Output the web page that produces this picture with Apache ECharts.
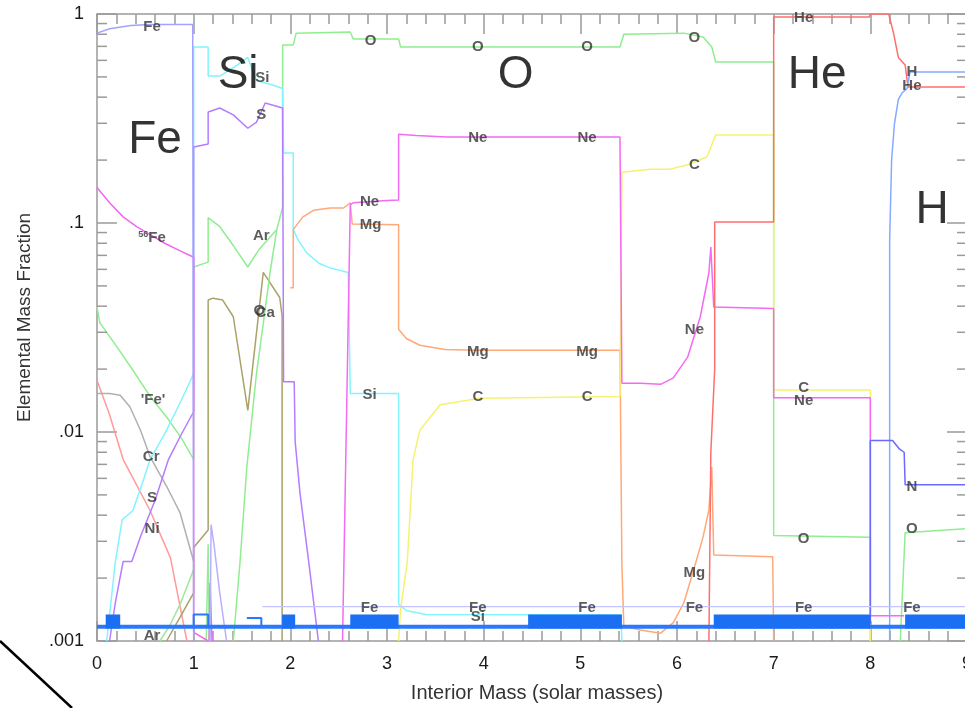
<!DOCTYPE html>
<html><head><meta charset="utf-8">
<script src="https://cdn.jsdelivr.net/npm/echarts@6/dist/echarts.min.js"></script>
<style>html,body{margin:0;padding:0;background:#fff}#c{width:965px;height:708px}</style>
</head><body><div id="c"></div>
<script>
// ---- data: [interior mass, mass fraction] ----
const feCore   = [[0,0.81],[0.13,0.85],[0.35,0.88],[0.55,0.89],[0.99,0.89],[1.0,0.89],[1.0,0.001]];
const feSpike  = [[1.17,0.001],[1.18,0.0036],[1.21,0.0029],[1.27,0.0017],[1.34,0.001]];
const fe56     = [[0,0.148],[0.13,0.125],[0.27,0.107],[0.41,0.096],[0.55,0.088],[0.7,0.08],[0.85,0.074],[1.0,0.0686],[1.0,0.0011],[1.15,0.001]];
const fe56Spike= [[1.16,0.001],[1.17,0.0019],[1.19,0.001]];
const neLine   = [[2.54,0.001],[2.62,0.122],[2.65,0.125],[3.0,0.128],[3.12,0.129],[3.12,0.266],[3.3,0.262],[3.62,0.258],[5.41,0.258],[5.43,0.0171],[5.62,0.0171],[5.83,0.0169],[5.96,0.0181],[6.11,0.0228],[6.24,0.0355],[6.33,0.0578],[6.35,0.0768],[6.37,0.0768],[6.38,0.0396],[7.0,0.039],[7.0,0.0146],[8.0,0.0146],[8.0,0.00132],[8.35,0.00132]];
const sLine    = [[0.13,0.001],[0.19,0.00153],[0.27,0.0024],[0.36,0.0024],[0.45,0.00316],[0.6,0.0047],[0.74,0.0074],[0.87,0.0097],[1.0,0.0125],[1.0,0.231],[1.15,0.239],[1.15,0.34],[1.27,0.355],[1.41,0.329],[1.56,0.284],[1.65,0.304],[1.74,0.375],[1.92,0.355],[1.93,0.0174],[2.04,0.0174],[2.05,0.009],[2.1,0.0051],[2.19,0.0024],[2.29,0.001]];
const siLine   = [[0.1,0.001],[0.19,0.0024],[0.26,0.0038],[0.37,0.0042],[0.48,0.0059],[0.55,0.0074],[0.7,0.0098],[0.85,0.0135],[1.0,0.019],[1.0,0.695],[1.15,0.695],[1.15,0.505],[1.27,0.505],[1.45,0.57],[1.56,0.62],[1.65,0.48],[1.8,0.46],[1.92,0.44],[1.93,0.216],[2.03,0.216],[2.03,0.093],[2.08,0.083],[2.17,0.072],[2.3,0.064],[2.41,0.061],[2.6,0.058],[2.62,0.0153],[3.12,0.0153],[3.12,0.0015],[3.2,0.0014],[3.4,0.00134],[5.42,0.00133],[5.43,0.001]];
const oLine    = [[0,0.0396],[0.03,0.0333],[0.21,0.0254],[0.37,0.0198],[0.55,0.0148],[0.72,0.0118],[0.87,0.0094],[1.0,0.0074],[1.0,0.0616],[1.15,0.065],[1.15,0.106],[1.27,0.096],[1.41,0.078],[1.56,0.0616],[1.67,0.074],[1.86,0.093],[1.92,0.119],[1.92,0.71],[2.03,0.71],[2.06,0.81],[2.62,0.82],[2.65,0.76],[3.12,0.76],[3.14,0.695],[5.41,0.695],[5.45,0.80],[6.07,0.81],[6.27,0.776],[6.36,0.695],[6.4,0.589],[7.0,0.589],[7.0,0.0032],[8.0,0.00314],[8.0,0.001]];
const oOuter   = [[8.31,0.001],[8.36,0.0033],[9,0.00345]];
const arRise   = [[1.41,0.001],[1.48,0.0024],[1.55,0.0068],[1.65,0.0191],[1.72,0.033],[1.79,0.058],[1.86,0.093]];
const greenLow = [[0.65,0.001],[0.75,0.00118],[0.86,0.0015],[1.0,0.0022]];
const greenSpike=[[1.13,0.001],[1.15,0.0029],[1.16,0.001]];
const caLine   = [[0.72,0.001],[0.86,0.0013],[1.0,0.0017],[1.0,0.0028],[1.15,0.0034],[1.15,0.0428],[1.2,0.0437],[1.3,0.0428],[1.41,0.0356],[1.56,0.0127],[1.72,0.058],[1.89,0.044],[1.915,0.036],[1.915,0.001]];
const feQuote  = [[0,0.0153],[0.13,0.0153],[0.24,0.015],[0.34,0.0132],[0.45,0.0102],[0.55,0.0076],[0.72,0.0055],[0.86,0.0041],[1.0,0.0024]];
const niLine   = [[0,0.0177],[0.13,0.0121],[0.27,0.0074],[0.55,0.0042],[0.76,0.0025],[0.93,0.001]];
const mgLine   = [[2.0,0.049],[2.03,0.049],[2.03,0.093],[2.13,0.107],[2.24,0.115],[2.41,0.118],[2.55,0.118],[2.62,0.125],[2.64,0.099],[3.12,0.098],[3.12,0.031],[3.2,0.028],[3.34,0.026],[3.6,0.0248],[3.94,0.0246],[5.41,0.0246],[5.43,0.0023],[5.45,0.00118],[5.62,0.00113],[5.83,0.00109],[5.96,0.00122],[6.07,0.00152],[6.17,0.00217],[6.27,0.00315],[6.33,0.00424],[6.36,0.0068],[6.38,0.00258],[6.99,0.00253],[7.0,0.001]];
const cLine    = [[3.12,0.001],[3.14,0.00141],[3.21,0.0024],[3.27,0.0074],[3.34,0.0102],[3.55,0.0135],[3.96,0.0145],[5.41,0.0148],[5.43,0.175],[5.72,0.181],[5.93,0.181],[6.11,0.19],[6.31,0.207],[6.4,0.264],[7.0,0.264],[7.0,0.0159],[8.0,0.0159],[8.0,0.001]];
const heLine   = [[6.33,0.001],[6.35,0.008],[6.39,0.02],[6.39,0.101],[7.0,0.101],[7.0,0.967],[7.99,0.967],[8.0,1.0],[8.19,1.0],[8.24,0.81],[8.29,0.62],[8.36,0.57],[8.39,0.447],[9,0.447]];
const hLine    = [[8.2,0.001],[8.2,0.083],[8.22,0.2],[8.25,0.3],[8.29,0.39],[8.33,0.42],[8.38,0.44],[8.41,0.528],[9,0.528]];
const nLine    = [[8.0,0.0012],[8.0,0.0091],[8.23,0.0091],[8.3,0.0083],[8.35,0.008],[8.36,0.0056],[9,0.0056]];
const lavLine  = [[1.71,0.00146],[9,0.00146]];
const baseLine = [[0,0.00117],[9,0.00117]];
const boxLine  = [[1.0,0.00117],[1.0,0.00134],[1.15,0.00134],[1.15,0.00117]];
const bitLine  = [[1.55,0.00129],[1.7,0.00129],[1.7,0.00117]];
const blockSegs = [[0.09,0.24],[1.915,2.05],[2.62,3.12],[4.46,5.43],[6.38,8.0],[8.36,9.0]];
const blockLevel = 0.00124;

// tick labels
const xTicks = [0,1,2,3,4,5,6,7,8,9];
const yTickLabels = ['.001','.01','.1','1'];
const yMinorTicks = [0.002,0.003,0.004,0.005,0.006,0.007,0.008,0.009,0.02,0.03,0.04,0.05,0.06,0.07,0.08,0.09,0.2,0.3,0.4,0.5,0.6,0.7,0.8,0.9];

// element labels
const labelText = ['Fe','Si','S','56Fe','Ar','O','Ca',"'Fe'",'Cr','S','Ni','Ar','O','O','O','O','Ne','Mg','Ne','Ne','C','Mg','Mg','Si','C','C','Ne','Mg','Fe','Fe','Si','Fe','Fe','Fe','Fe','He','C','Ne','O','H','He','N','O'];
const labelX = [0.57,1.71,1.70,0.57,1.70,1.68,1.74,0.58,0.56,0.57,0.57,0.57,2.83,3.94,5.07,6.18,2.82,2.83,3.94,5.07,6.18,3.94,5.07,2.82,3.94,5.07,6.18,6.18,2.82,3.94,3.94,5.07,6.18,7.31,8.43,7.31,7.31,7.31,7.31,8.43,8.43,8.43,8.43];
const labelY = [0.867,0.494,0.329,0.0848,0.0867,0.0379,0.0371,0.0142,0.00759,0.00483,0.00344,0.00106,0.743,0.695,0.695,0.768,0.126,0.0978,0.255,0.255,0.1895,0.0241,0.0241,0.01503,0.0147,0.0147,0.0308,0.00211,0.00144,0.00144,0.0013,0.00144,0.00144,0.00144,0.00144,0.957,0.01624,0.01407,0.00308,0.528,0.452,0.00546,0.00344];
const bigText = ['Fe','Si','O','He','H'];
const bigX = [0.60,1.46,4.33,7.45,8.64];
const bigY = [0.249,0.511,0.511,0.511,0.1154];

// ---- chart ----
const FONT = 'Liberation Sans, Arial, Helvetica, sans-serif';
const AX = '#9a9a9a';
const chart = echarts.init(document.getElementById('c'), null, {renderer: 'canvas'});

function line(data, color, width) {
  return {type: 'line', data: data, symbol: 'none', showSymbol: false, silent: true,
    lineStyle: {color: color, width: width || 1.5}, itemStyle: {color: color}, z: 2};
}
const blockData = [];
blockSegs.forEach(s => { blockData.push([s[0], blockLevel], [s[1], blockLevel], [s[1], '-']); });

const labelData = labelText.map((t, i) => ({
  value: [labelX[i], labelY[i]],
  label: {formatter: t === '56Fe' ? '{s|56}{b|Fe}' : t}
}));
const bigData = bigText.map((t, i) => ({value: [bigX[i], bigY[i]], label: {formatter: t}}));

const xBase = {
  type: 'value', min: 0, max: 9, interval: 1,
  axisLine: {show: true, onZero: false, lineStyle: {color: AX, width: 1.5}},
  axisTick: {show: true, inside: true, length: 20, lineStyle: {color: AX, width: 1.5}},
  minorTick: {show: true, splitNumber: 5, length: 10, lineStyle: {color: AX, width: 1.5}},
  splitLine: {show: false}, minorSplitLine: {show: false}
};
const yBase = {
  type: 'log', logBase: 10, min: 0.001, max: 1,
  axisLine: {show: true, onZero: false, lineStyle: {color: AX, width: 1.5}},
  axisTick: {show: true, inside: true, length: 20, lineStyle: {color: AX, width: 1.5}},
  splitLine: {show: false}
};

chart.setOption({
  animation: false,
  backgroundColor: '#fff',
  grid: {left: 97, top: 14, width: 870, height: 627, containLabel: false, outerBoundsMode: 'none'},
  xAxis: [
    Object.assign({}, xBase, {position: 'bottom',
      axisLabel: {fontSize: 18, color: '#1a1a1a', margin: 14, fontFamily: FONT,
        formatter: v => String(xTicks[Math.round(v)])},
      name: 'Interior Mass (solar masses)', nameLocation: 'middle', nameGap: 42,
      nameTextStyle: {fontSize: 20, color: '#333', fontFamily: FONT, padding: [0, 0, 0, 10]}}),
    Object.assign({}, xBase, {position: 'top', axisLabel: {show: false}})
  ],
  yAxis: [
    Object.assign({}, yBase, {position: 'left',
      axisLabel: {fontSize: 18, color: '#1a1a1a', margin: 13, fontFamily: FONT,
        formatter: v => yTickLabels[Math.round(Math.log10(v)) + 3]},
      name: 'Elemental Mass Fraction', nameLocation: 'middle', nameGap: 63,
      nameTextStyle: {fontSize: 19, color: '#333', fontFamily: FONT, padding: [0, 0, 0, 20]}}),
    Object.assign({}, yBase, {position: 'right', axisLabel: {show: false}})
  ],
  graphic: [{type: 'line', shape: {x1: 0, y1: 641, x2: 72, y2: 708},
    style: {stroke: '#000', lineWidth: 2.5}, z: 10}],
  series: [
    line(niLine, '#ff9a9a'),
    line(feQuote, '#b0b0b0'),
    line(greenLow, '#9be89b'),
    line(greenSpike, '#9be89b'),
    line(caLine, '#aaa268'),
    line(arRise, '#8fee8f'),
    line(oLine, '#8fee8f'),
    line(oOuter, '#8fee8f'),
    line(siLine, '#80f4ff'),
    line(sLine, '#b47cff'),
    line(fe56, '#f266f2'),
    line(fe56Spike, '#f266f2'),
    line(feCore, '#a3a3ff'),
    line(feSpike, '#b8b0ff'),
    line(mgLine, '#ffa878'),
    line(cLine, '#f6f270'),
    line(neLine, '#f46af4'),
    line(heLine, '#ff6e6e'),
    line(hLine, '#86aaff'),
    line(nLine, '#6a6aff'),
    line(lavLine, '#c4c4ff', 1.2),
    line(baseLine, '#2a78ff', 4),
    line(boxLine, '#2a78ff', 2),
    line(bitLine, '#2a78ff', 2),
    Object.assign(line(blockData, '#1a6ff2', 14), {connectNulls: false,
      lineStyle: {color: '#1a6ff2', width: 14, cap: 'butt'}}),
    {type: 'custom', silent: true, z: 3, clip: false,
      data: yMinorTicks.map(v => [0, v]),
      renderItem: function (params, api) {
        const v = api.value(1);
        const pl = api.coord([0, v]);
        const pr = api.coord([9, v]);
        const st = {stroke: AX, lineWidth: 1.5};
        return {type: 'group', children: [
          {type: 'line', shape: {x1: pl[0], y1: pl[1], x2: pl[0] + 10, y2: pl[1]}, style: st},
          {type: 'line', shape: {x1: pr[0] - 10, y1: pr[1], x2: pr[0], y2: pr[1]}, style: st}
        ]};
      }},
    {type: 'scatter', data: labelData, symbolSize: 0, silent: true, z: 5,
      label: {show: true, position: 'inside', fontSize: 15, fontWeight: 'bold', color: '#333', fontFamily: FONT,
        rich: {s: {fontSize: 9, color: '#333', fontWeight: 'bold', padding: [0, 0, 7, 0], fontFamily: FONT},
               b: {fontSize: 15, color: '#333', fontWeight: 'bold', fontFamily: FONT}}}},
    {type: 'scatter', data: bigData, symbolSize: 0, silent: true, z: 5,
      label: {show: true, position: 'inside', fontSize: 46, color: '#000', fontFamily: FONT}}
  ]
});
</script></body></html>
